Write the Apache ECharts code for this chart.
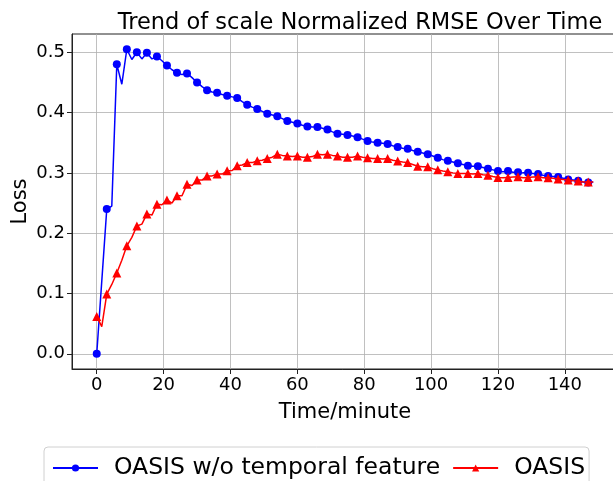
<!DOCTYPE html>
<html>
<head>
<meta charset="utf-8">
<script src="https://cdn.jsdelivr.net/npm/echarts@6/dist/echarts.min.js"></script>
<style>html,body{margin:0;padding:0;background:#fff;}#chart{width:613px;height:481px;}</style>
</head>
<body>
<div id="chart"></div>
<script>
const titleText = 'Trend of scale Normalized RMSE Over Time';
const xName = 'Time/minute';
const yName = 'Loss';
const seriesNames = ['OASIS w/o temporal feature', 'OASIS'];
const xTicks = [0, 20, 40, 60, 80, 100, 120, 140];
const yTicks = [0.0, 0.1, 0.2, 0.3, 0.4, 0.5];

const times = [0, 1.5, 3, 4.5, 6, 7.5, 9, 10.5, 12, 13.5, 15, 16.5, 18, 19.5, 21, 22.5, 24, 25.5, 27, 28.5,
  30, 31.5, 33, 34.5, 36, 37.5, 39, 40.5, 42, 43.5, 45, 46.5, 48, 49.5, 51, 52.5, 54, 55.5, 57, 58.5,
  60, 61.5, 63, 64.5, 66, 67.5, 69, 70.5, 72, 73.5, 75, 76.5, 78, 79.5, 81, 82.5, 84, 85.5, 87, 88.5,
  90, 91.5, 93, 94.5, 96, 97.5, 99, 100.5, 102, 103.5, 105, 106.5, 108, 109.5, 111, 112.5, 114, 115.5, 117, 118.5,
  120, 121.5, 123, 124.5, 126, 127.5, 129, 130.5, 132, 133.5, 135, 136.5, 138, 139.5, 141, 142.5, 144, 145.5, 147, 148.5];

const blueLoss = [0.000, 0.120, 0.240, 0.245, 0.480, 0.447, 0.505, 0.488, 0.500, 0.489, 0.499, 0.489, 0.493, 0.486, 0.478, 0.471, 0.466, 0.463, 0.465, 0.458,
  0.450, 0.443, 0.437, 0.434, 0.433, 0.430, 0.428, 0.426, 0.424, 0.418, 0.413, 0.409, 0.406, 0.402, 0.398, 0.396, 0.394, 0.390, 0.386, 0.384,
  0.382, 0.379, 0.377, 0.376, 0.376, 0.374, 0.372, 0.368, 0.365, 0.364, 0.363, 0.361, 0.359, 0.356, 0.353, 0.351, 0.350, 0.349, 0.348, 0.345,
  0.343, 0.341, 0.340, 0.337, 0.335, 0.333, 0.331, 0.328, 0.325, 0.322, 0.320, 0.318, 0.316, 0.314, 0.312, 0.311, 0.311, 0.309, 0.307, 0.305,
  0.303, 0.302, 0.303, 0.301, 0.301, 0.300, 0.300, 0.299, 0.298, 0.296, 0.295, 0.294, 0.293, 0.291, 0.289, 0.288, 0.287, 0.285, 0.284, 0.285];

const redLoss = [0.062, 0.045, 0.099, 0.115, 0.134, 0.155, 0.179, 0.193, 0.212, 0.215, 0.232, 0.230, 0.248, 0.247, 0.255, 0.250, 0.262, 0.262, 0.281, 0.279,
  0.288, 0.288, 0.295, 0.295, 0.298, 0.298, 0.3035, 0.304, 0.312, 0.313, 0.317, 0.317, 0.320, 0.321, 0.324, 0.326, 0.331, 0.329, 0.328, 0.327,
  0.328, 0.326, 0.326, 0.327, 0.331, 0.330, 0.331, 0.329, 0.328, 0.326, 0.326, 0.326, 0.328, 0.326, 0.325, 0.324, 0.324, 0.323, 0.324, 0.321,
  0.3195, 0.318, 0.317, 0.314, 0.311, 0.310, 0.310, 0.307, 0.305, 0.303, 0.302, 0.300, 0.299, 0.299, 0.299, 0.298, 0.299, 0.297, 0.296, 0.294,
  0.2925, 0.292, 0.2925, 0.293, 0.2935, 0.292, 0.2925, 0.293, 0.2935, 0.292, 0.292, 0.291, 0.290, 0.289, 0.288, 0.287, 0.2865, 0.285, 0.285, 0.285];

const FONT = 'DejaVu Sans';
const chart = echarts.init(document.getElementById('chart'), null, {renderer: 'canvas'});

function build(values) {
  return times.map((t, i) => (i % 2 === 0)
    ? {value: [t, values[i]]}
    : {value: [t, values[i]], symbol: 'none'});
}

chart.setOption({
  animation: false,
  backgroundColor: '#ffffff',
  title: {
    text: titleText,
    left: 355, top: 7, textAlign: 'center',
    textStyle: {fontFamily: FONT, fontSize: 22.5, fontWeight: 'normal', color: '#000'}
  },
  grid: {
    left: 72, top: 34, width: 546, height: 335,
    show: true, borderColor: '#222', borderWidth: 1, backgroundColor: 'transparent',
    containLabel: false,
    outerBoundsMode: 'none'
  },
  legend: {
    left: 44, top: 447,
    padding: [9, 4, 10, 8],
    itemGap: 12,
    itemWidth: 45, itemHeight: 9,
    borderColor: '#d0d0d0', borderWidth: 1, borderRadius: 4,
    textStyle: {fontFamily: FONT, fontSize: 23.5, color: '#000', padding: [0, 0, 0, 11]},
    data: seriesNames
  },
  xAxis: {
    type: 'value', min: -7.4, max: 155.9,
    name: xName, nameLocation: 'middle', nameGap: 33, nameMoveOverlap: false,
    nameTextStyle: {fontFamily: FONT, fontSize: 21, color: '#000'},
    axisLine: {show: true, onZero: false, lineStyle: {color: '#222', width: 1}},
    axisTick: {show: true, length: 5, inside: false, customValues: xTicks, lineStyle: {color: '#222'}},
    axisLabel: {customValues: xTicks, fontFamily: FONT, fontSize: 18, color: '#000', margin: 7},
    splitLine: {show: true, lineStyle: {color: '#b0b0b0', width: 0.8}}
  },
  yAxis: {
    type: 'value', min: -0.02525, max: 0.5303,
    name: yName, nameLocation: 'middle', nameGap: 41, nameMoveOverlap: false,
    nameTextStyle: {fontFamily: FONT, fontSize: 21, color: '#000'},
    axisLine: {show: true, onZero: false, lineStyle: {color: '#222', width: 1}},
    axisTick: {show: true, length: 5, inside: false, customValues: yTicks, lineStyle: {color: '#222'}},
    axisLabel: {customValues: yTicks, fontFamily: FONT, fontSize: 18, color: '#000', margin: 7,
      formatter: v => v.toFixed(1)},
    splitLine: {show: true, lineStyle: {color: '#b0b0b0', width: 0.8}}
  },
  series: [
    {
      name: seriesNames[0], type: 'line',
      data: build(blueLoss),
      symbol: 'circle',
      showSymbol: true, showAllSymbol: true,
      symbolSize: 8,
      lineStyle: {color: '#0000ff', width: 1.5},
      itemStyle: {color: '#0000ff'},
      z: 3
    },
    {
      name: seriesNames[1], type: 'line',
      data: build(redLoss),
      symbol: 'triangle',
      showSymbol: true, showAllSymbol: true,
      symbolSize: 9,
      lineStyle: {color: '#ff0000', width: 1.5},
      itemStyle: {color: '#ff0000'},
      z: 4
    }
  ]
});
</script>
</body>
</html>
